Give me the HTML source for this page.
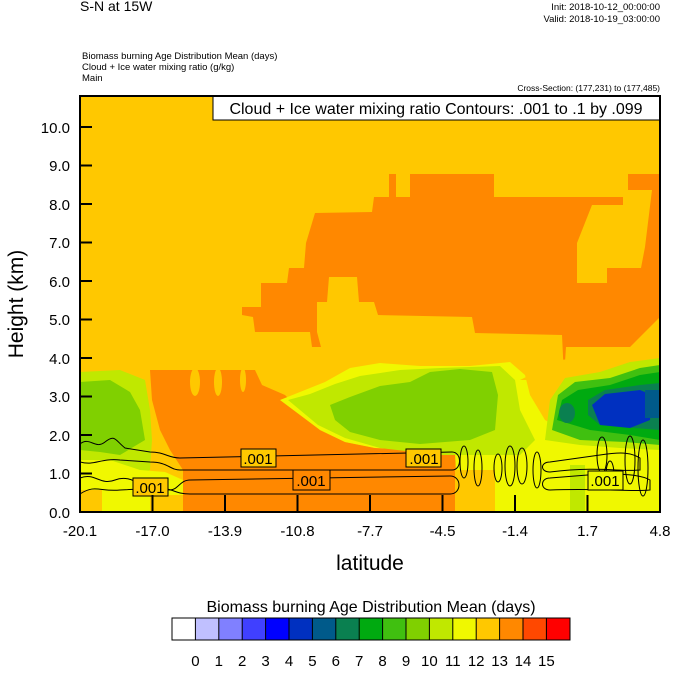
<!DOCTYPE html>
<html><head><style>
body{margin:0;background:#fff;width:674px;height:668px;overflow:hidden;font-family:"Liberation Sans",sans-serif}
</style></head><body>
<svg width="674" height="668" xmlns="http://www.w3.org/2000/svg" font-family="Liberation Sans, sans-serif">
<text x="80" y="11" font-size="14">S-N at 15W</text>
<text x="660" y="10" font-size="9.5" text-anchor="end">Init: 2018-10-12_00:00:00</text>
<text x="660" y="22" font-size="9.5" text-anchor="end">Valid: 2018-10-19_03:00:00</text>
<text x="82" y="59" font-size="9.5">Biomass burning Age Distribution Mean   (days)</text>
<text x="82" y="70" font-size="9.5">Cloud + Ice water mixing ratio   (g/kg)</text>
<text x="82" y="81" font-size="9.5">Main</text>
<text x="660" y="91" font-size="8.5" text-anchor="end">Cross-Section: (177,231) to (177,485)</text>
<defs><clipPath id="c"><rect x="80" y="96" width="580" height="416"/></clipPath></defs>
<g clip-path="url(#c)">
<rect x="80" y="96" width="580" height="416" fill="#ffc800"/>
<polygon fill="#ff8800" points="389,174 396,174 396,197 410,197 410,174 494,174 494,197 623,197 623,205 592,205 577,243 577,283 607,283 607,268 641,268 645,247 652,190 628,190 628,174 660,174 660,317 630,347 566,347 564,377 562,335 475,333 472,317 378,315 374,302 359,302 357,277 329,277 327,302 317,302 317,332 321,347 312,347 310,332 255,332 253,317 242,315 242,307 261,307 261,283 287,283 289,268 304,268 306,243 315,213 372,212 374,197 389,197"/>
<polygon fill="#ff8800" points="150,370 255,370 262,385 285,395 300,410 320,430 345,442 375,448 420,450 455,452 458,512 183,512 183,470 170,450 160,430 152,400"/>
<ellipse cx="195" cy="382" rx="5" ry="14" fill="#ffc800"/><ellipse cx="218" cy="382" rx="4" ry="14" fill="#ffc800"/><ellipse cx="243" cy="380" rx="3" ry="12" fill="#ffc800"/>
<polygon fill="#f0f800" points="280,400 300,392 325,382 350,368 380,363 420,366 470,366 510,362 525,375 530,395 545,420 580,440 620,440 660,420 660,512 458,512 455,452 420,450 375,448 345,442 320,430"/>
<polygon fill="#c0e800" points="288,400 310,394 335,384 360,376 400,370 440,368 500,366 515,380 520,410 535,440 520,455 470,455 440,455 380,448 345,438 318,425"/>
<polygon fill="#80d000" points="330,405 350,397 380,386 410,382 430,372 460,369 492,372 498,395 495,430 470,440 420,444 380,440 350,432 335,420"/>
<polygon fill="#ffc800" points="520,380 560,360 610,355 660,350 660,380 580,380"/>
<polygon fill="#c0e800" points="545,440 550,400 565,378 600,372 630,362 660,358 660,450 620,448 580,445"/>
<polygon fill="#40c010" points="552,430 558,395 575,382 610,378 640,368 660,365 660,445 625,442 580,440"/>
<polygon fill="#00aa10" points="557,420 562,400 578,390 610,385 640,375 660,372 660,440 630,435 590,430"/>
<ellipse cx="567" cy="413" rx="8" ry="10" fill="#0a8050"/>
<polygon fill="#0a8050" points="588,400 605,390 640,385 660,383 660,430 635,428 600,425 588,415"/>
<polygon fill="#0030c0" points="592,405 605,394 640,390 652,395 650,420 630,428 600,425"/>
<rect x="645" y="390" width="15" height="28" fill="#005a8a"/>
<rect x="570" y="465" width="15" height="47" fill="#c0e800"/>
<polygon fill="#c0e800" points="80,372 120,370 145,380 150,410 152,440 150,470 130,480 100,478 80,470"/>
<polygon fill="#80d000" points="80,382 110,380 130,392 140,410 145,440 120,455 100,452 80,450"/>
<polygon fill="#f0f800" points="80,460 110,460 140,470 165,472 183,480 183,512 80,512"/>
<rect x="80" y="490" width="22" height="22" fill="#ffc800"/>
<rect x="150" y="495" width="33" height="17" fill="#ffc800"/>
<rect x="455" y="470" width="40" height="42" fill="#ffc800"/>
<g fill="none" stroke="#000" stroke-width="1">
<path d="M80,444 C90,436 95,450 105,442 S115,440 125,448 L150,452 C165,452 168,458 180,458 L452,452 C462,452 462,470 452,470 L180,470 C170,470 168,462 150,462 L120,460 C100,458 95,466 80,462"/>
<path d="M80,478 C95,472 100,486 115,480 S140,486 150,488 L170,490 C178,490 180,480 190,480 L450,476 C462,476 462,494 450,494 L190,494 C175,494 172,488 160,488 L120,490 C100,492 95,484 80,494"/>
<path d="M550,462 L600,455 C620,452 630,452 640,458 L640,470 C620,472 600,466 550,472 C540,472 540,462 550,462Z"/>
<path d="M550,478 L600,474 C620,474 640,474 650,480 L650,490 C630,492 600,488 550,490 C540,490 540,478 550,478Z"/>
<ellipse cx="464" cy="462" rx="4" ry="16"/><ellipse cx="478" cy="468" rx="4" ry="18"/><ellipse cx="498" cy="468" rx="4" ry="14"/><ellipse cx="510" cy="466" rx="5" ry="20"/><ellipse cx="522" cy="466" rx="5" ry="18"/><ellipse cx="537" cy="470" rx="4" ry="18"/>
<ellipse cx="602" cy="455" rx="5" ry="18"/><ellipse cx="630" cy="460" rx="5" ry="24"/><ellipse cx="643" cy="468" rx="5" ry="28"/><ellipse cx="610" cy="475" rx="4" ry="14"/>
</g>
</g>
<g font-size="14" stroke="#000" stroke-width="1">
<rect x="133" y="478" width="35" height="18" fill="#ffc800"/>
<rect x="241" y="449" width="35" height="18" fill="#ffc800"/>
<rect x="293" y="470" width="37" height="20" fill="#ff8800"/>
<rect x="406" y="449" width="35" height="18" fill="#ffc800"/>
<rect x="588" y="471" width="35" height="19" fill="#f0f800"/>
</g>
<g font-size="15" text-anchor="middle">
<text x="150" y="493">.001</text><text x="258" y="464">.001</text><text x="311" y="486">.001</text><text x="424" y="464">.001</text><text x="605" y="486">.001</text>
</g>
<rect x="213" y="96" width="447" height="24" fill="#fff" stroke="#000"/>
<text x="436" y="114" font-size="16" text-anchor="middle">Cloud + Ice water mixing ratio Contours: .001 to .1 by .099</text>
<rect x="80" y="96" width="580" height="416" fill="none" stroke="#000" stroke-width="2"/>
<g stroke="#000" stroke-width="2">
<line x1="80" y1="473.5" x2="92" y2="473.5"/><line x1="80" y1="435" x2="92" y2="435"/><line x1="80" y1="396.5" x2="92" y2="396.5"/><line x1="80" y1="358" x2="92" y2="358"/><line x1="80" y1="319.5" x2="92" y2="319.5"/><line x1="80" y1="281" x2="92" y2="281"/><line x1="80" y1="242.5" x2="92" y2="242.5"/><line x1="80" y1="204" x2="92" y2="204"/><line x1="80" y1="165.5" x2="92" y2="165.5"/><line x1="80" y1="127" x2="92" y2="127"/>
<line x1="152.5" y1="512" x2="152.5" y2="495"/><line x1="225" y1="512" x2="225" y2="495"/><line x1="297.5" y1="512" x2="297.5" y2="495"/><line x1="370" y1="512" x2="370" y2="495"/><line x1="442.5" y1="512" x2="442.5" y2="495"/><line x1="515" y1="512" x2="515" y2="495"/><line x1="587.5" y1="512" x2="587.5" y2="495"/>
</g>
<g font-size="15" text-anchor="end">
<text x="70" y="518">0.0</text><text x="70" y="479">1.0</text><text x="70" y="441">2.0</text><text x="70" y="402">3.0</text><text x="70" y="364">4.0</text><text x="70" y="325">5.0</text><text x="70" y="287">6.0</text><text x="70" y="248">7.0</text><text x="70" y="210">8.0</text><text x="70" y="171">9.0</text><text x="70" y="133">10.0</text>
</g>
<g font-size="15" text-anchor="middle">
<text x="80" y="536">-20.1</text><text x="152.5" y="536">-17.0</text><text x="225" y="536">-13.9</text><text x="297.5" y="536">-10.8</text><text x="370" y="536">-7.7</text><text x="442.5" y="536">-4.5</text><text x="515" y="536">-1.4</text><text x="587.5" y="536">1.7</text><text x="660" y="536">4.8</text>
</g>
<text x="370" y="570" font-size="21" text-anchor="middle">latitude</text>
<text transform="translate(23,304) rotate(-90)" font-size="21" text-anchor="middle">Height (km)</text>
<text x="371" y="612" font-size="16" text-anchor="middle">Biomass burning Age Distribution Mean  (days)</text>
<g stroke="none">
<rect x="172" y="618" width="23.4" height="22" fill="#ffffff"/><rect x="195.4" y="618" width="23.4" height="22" fill="#c0c0ff"/><rect x="218.8" y="618" width="23.4" height="22" fill="#8080ff"/><rect x="242.2" y="618" width="23.4" height="22" fill="#4040ff"/><rect x="265.6" y="618" width="23.4" height="22" fill="#0000ff"/><rect x="289" y="618" width="23.4" height="22" fill="#0030c0"/><rect x="312.4" y="618" width="23.4" height="22" fill="#005a8a"/><rect x="335.8" y="618" width="23.4" height="22" fill="#0a8050"/><rect x="359.2" y="618" width="23.4" height="22" fill="#00aa10"/><rect x="382.6" y="618" width="23.4" height="22" fill="#40c010"/><rect x="406" y="618" width="23.4" height="22" fill="#80d000"/><rect x="429.4" y="618" width="23.4" height="22" fill="#c0e800"/><rect x="452.8" y="618" width="23.4" height="22" fill="#f0f800"/><rect x="476.2" y="618" width="23.4" height="22" fill="#ffc800"/><rect x="499.6" y="618" width="23.4" height="22" fill="#ff8800"/><rect x="523" y="618" width="23.4" height="22" fill="#ff4800"/><rect x="546.4" y="618" width="23.6" height="22" fill="#ff0000"/>
</g>
<g stroke="#000" stroke-width="1" fill="none"><rect x="172" y="618" width="398" height="22"/>
<path d="M195.4,618v22M218.8,618v22M242.2,618v22M265.6,618v22M289,618v22M312.4,618v22M335.8,618v22M359.2,618v22M382.6,618v22M406,618v22M429.4,618v22M452.8,618v22M476.2,618v22M499.6,618v22M523,618v22M546.4,618v22"/></g>
<g font-size="15" text-anchor="middle">
<text x="195.4" y="666">0</text><text x="218.8" y="666">1</text><text x="242.2" y="666">2</text><text x="265.6" y="666">3</text><text x="289" y="666">4</text><text x="312.4" y="666">5</text><text x="335.8" y="666">6</text><text x="359.2" y="666">7</text><text x="382.6" y="666">8</text><text x="406" y="666">9</text><text x="429.4" y="666">10</text><text x="452.8" y="666">11</text><text x="476.2" y="666">12</text><text x="499.6" y="666">13</text><text x="523" y="666">14</text><text x="546.4" y="666">15</text>
</g>
</svg>
</body></html>
